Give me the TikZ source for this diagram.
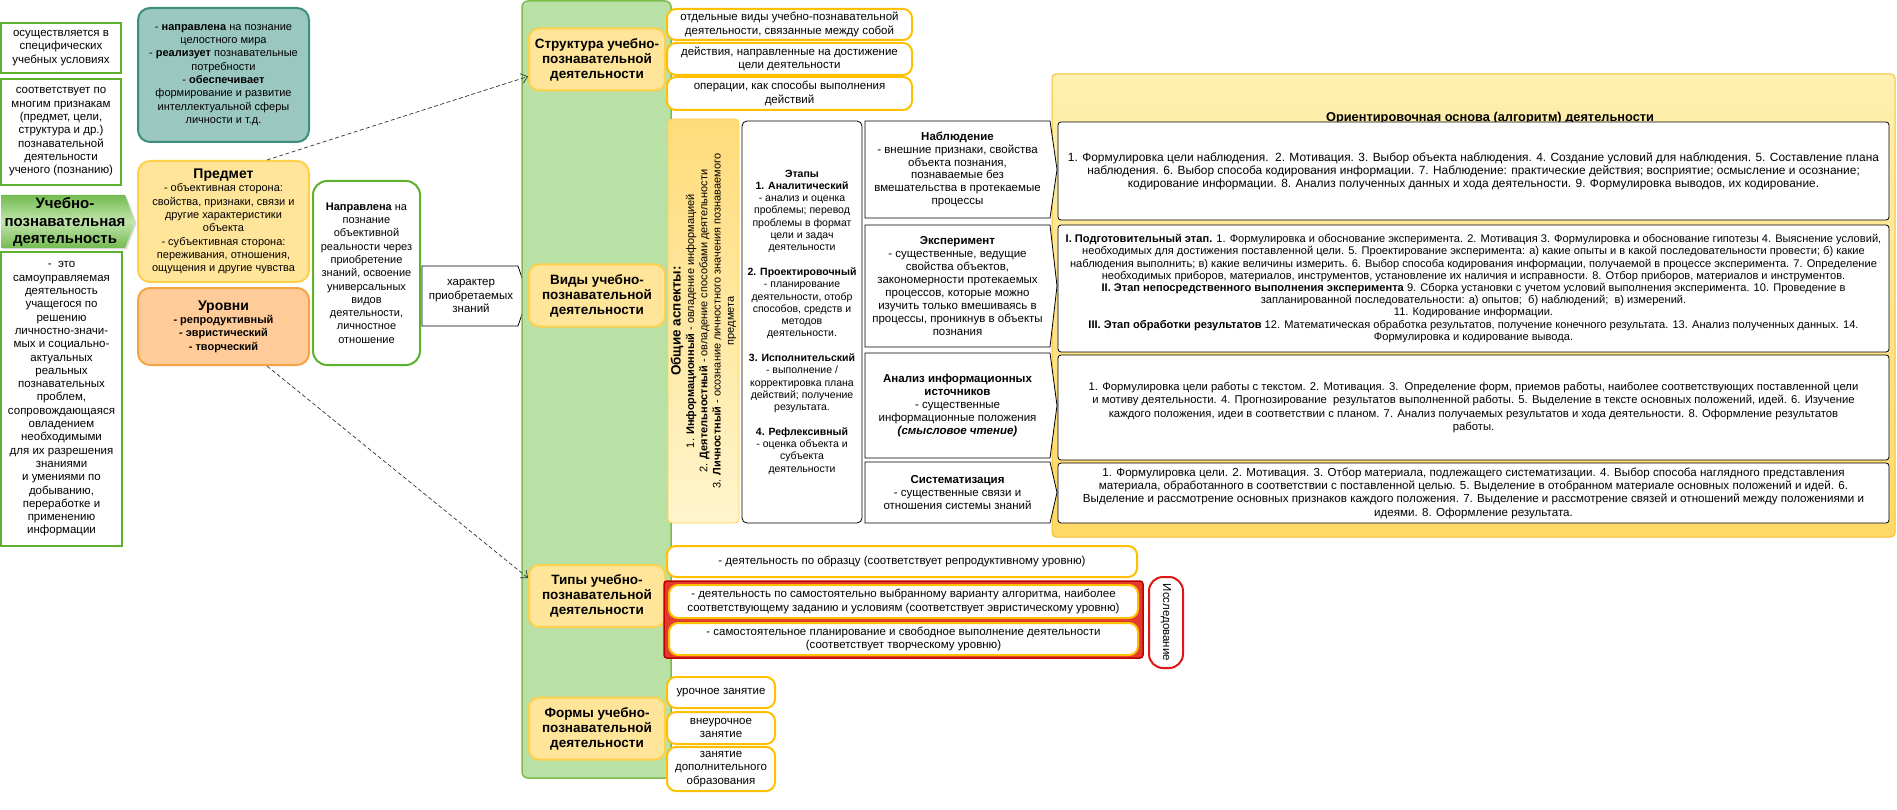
\documentclass[tikz,border=0pt]{standalone}
\usepackage{fontspec}
\setmainfont{Liberation Sans}
\usetikzlibrary{arrows.meta,shadows}
\definecolor{lgreen}{HTML}{5DB12E}
\definecolor{pgreen}{HTML}{B9E0A5}
\definecolor{pgreenb}{HTML}{7DBB4F}
\definecolor{arrgreen}{HTML}{74BB50}
\definecolor{arrgreenl}{HTML}{C2E5AE}
\definecolor{tealf}{HTML}{9AC7BF}
\definecolor{tealb}{HTML}{3D8F7C}
\definecolor{yelf}{HTML}{FFE599}
\definecolor{yelb}{HTML}{FFD04A}
\definecolor{oranf}{HTML}{FFCC99}
\definecolor{oranb}{HTML}{F5A444}
\definecolor{gold}{HTML}{FFC000}
\definecolor{panelt}{HTML}{FFF0B0}
\definecolor{panelbt}{HTML}{FFD966}
\definecolor{panelb}{HTML}{F2C037}
\definecolor{stripd}{HTML}{FFDC7A}
\definecolor{stripl}{HTML}{FFF4CC}
\definecolor{redf}{HTML}{E23B2E}
\definecolor{redb}{HTML}{C00000}
\definecolor{issb}{HTML}{E01515}

\begin{document}
\begin{tikzpicture}[x=1pt,y=-1pt,
  lbox/.style={draw=lgreen, line width=2.5pt, fill=white, align=center, inner sep=1pt,
    font=\fontsize{11.5}{13.3}\selectfont},
  cbox/.style={line width=2pt, rounded corners=12pt, align=center, inner sep=1pt,
    minimum width=171, font=\fontsize{11}{13.3}\selectfont},
  hdr/.style={fill=yelf, draw=yelb, line width=2pt, rounded corners=10pt, align=center,
    minimum width=136, minimum height=62, font=\bfseries\fontsize{13.5}{15}\selectfont},
  obox/.style={fill=white, draw=gold, line width=2pt, rounded corners=9pt, align=center,
    inner sep=1pt, font=\fontsize{11.5}{13.3}\selectfont},
  tline/.style={draw=black, line width=0.8pt, fill=white},
  rbox/.style={tline, rounded corners=3pt, align=center, inner sep=1pt, minimum width=831},
  ntext/.style={align=center, font=\fontsize{11.5}{12.9}\selectfont},
  dashcon/.style={black!80, line width=0.7pt, dash pattern=on 4pt off 2.5pt,
    -{Straight Barb[length=6pt,width=10pt]}}
]
\useasboundingbox (0,0) rectangle (1897,810);

% left column
\node[lbox, minimum width=120, minimum height=50] (usl) at (61,48)
  {осуществляется в\\специфических\\учебных условиях};
\node[lbox, minimum width=120, minimum height=106] (sootv) at (61,132)
  {соответствует по\\многим признакам\\(предмет, цели,\\структура и др.)\\познавательной\\деятельности\\ученого (познанию)};
\path[top color=arrgreen, bottom color=arrgreen, middle color=arrgreenl,
  drop shadow={shadow xshift=1.5pt, shadow yshift=-1.5pt, opacity=0.3}]
  (1,195) -- (125,195) -- (135,222) -- (125,248) -- (1,248) -- cycle;
\node[align=center, font=\bfseries\fontsize{15}{17.5}\selectfont] (upd) at (65,222)
  {Учебно-\\познавательная\\деятельность};
\node[lbox, minimum width=121, minimum height=294] (samoupr) at (61.5,399)
  {-\ \ это\\самоуправляемая\\деятельность\\учащегося по\\решению\\личностно-значи-\\мых и социально-\\актуальных\\реальных\\познавательных\\проблем,\\сопровождающаяся\\овладением\\необходимыми\\для их разрешения\\знаниями\\и умениями по\\добыванию,\\переработке и\\применению\\информации};

% second column
\node[cbox, fill=tealf, draw=tealb, minimum height=134] (celi) at (223.5,75)
  {- \textbf{направлена} на познание\\целостного мира\\- \textbf{реализует} познавательные\\потребности\\- \textbf{обеспечивает}\\формирование и развитие\\интеллектуальной сферы\\личности и т.д.};
\node[cbox, fill=yelf, draw=yelb, minimum height=121] (predmet) at (223.5,221.5)
  {{\bfseries\fontsize{14}{15.5}\selectfont Предмет}\\- объективная сторона:\\свойства, признаки, связи и\\другие характеристики\\объекта\\- субъективная сторона:\\переживания, отношения,\\ощущения и другие чувства};
\node[cbox, fill=oranf, draw=oranb, minimum height=77] (urovni) at (223.5,326.5)
  {{\bfseries\fontsize{14}{15.5}\selectfont Уровни}\\\textbf{- репродуктивный}\\\textbf{- эвристический}\\\textbf{- творческий}};
\node[cbox, fill=white, draw=lgreen, rounded corners=14pt, minimum width=107, minimum height=184]
  (napr) at (366.5,273)
  {\textbf{Направлена} на\\познание\\объективной\\реальности через\\приобретение\\знаний, освоение\\универсальных\\видов\\деятельности,\\личностное\\отношение};
\draw[tline] (422,266) -- (518,266) -- (528,296) -- (518,326) -- (422,326) -- cycle;
\node[align=center, font=\fontsize{11.5}{13.3}\selectfont] (harakter) at (471,296)
  {характер\\приобретаемых\\знаний};

% green panel
\node[fill=pgreen, draw=pgreenb, line width=1.5pt, rounded corners=6pt,
  minimum width=149, minimum height=777] (panel) at (596.5,389.5) {};
\node[hdr] (struct) at (597,59.5) {Структура учебно-\\познавательной\\деятельности};
\node[hdr] (vidy) at (597,295.5) {Виды учебно-\\познавательной\\деятельности};
\node[hdr] (tipy) at (597,596) {Типы учебно-\\познавательной\\деятельности};
\node[hdr] (formy) at (597,728.5) {Формы учебно-\\познавательной\\деятельности};

% structure
\node[obox, minimum width=245, minimum height=31] (otd) at (789.5,24.5)
  {отдельные виды учебно-познавательной\\деятельности, связанные между собой};
\node[obox, minimum width=245, minimum height=32] (deistv) at (789.5,59)
  {действия, направленные на достижение\\цели деятельности};
\node[obox, minimum width=245, minimum height=33] (oper) at (789.5,93.5)
  {операции, как способы выполнения\\действий};

% kinds
\node[rotate=90, top color=stripd, bottom color=stripl, draw=yelb, line width=0.8pt,
  rounded corners=4pt, minimum width=404, minimum height=71, align=center, inner sep=1pt,
  font=\fontsize{11}{13.3}\selectfont] (aspekty) at (703.5,321)
  {{\bfseries\fontsize{13.5}{15}\selectfont Общие аспекты:}\\
   1. \textbf{Информационный} - овладение информацией\\
   2. \textbf{Деятельностный} - овладение способами деятельности\\
   3. \textbf{Личностный} - осознание личностного значения познаваемого\\
   предмета};
\node[tline, rounded corners=5pt, minimum width=120, minimum height=402, align=center,
  inner sep=1pt, font=\fontsize{10.5}{12.3}\selectfont] (etapy) at (802,322)
  {\textbf{Этапы}\\\textbf{1. Аналитический}\\- анализ и оценка\\проблемы; перевод\\проблемы в формат\\цели и задач\\деятельности\\[12.3pt]
   \textbf{2. Проектировочный}\\- планирование\\деятельности, отобр\\способов, средств и\\методов\\деятельности.\\[12.3pt]
   \textbf{3. Исполнительский}\\- выполнение /\\корректировка плана\\действий; получение\\результата.\\[12.3pt]
   \textbf{4. Рефлексивный}\\- оценка объекта и\\субъекта\\деятельности};

\node[draw=panelb, line width=1pt, rounded corners=4pt, top color=panelt, bottom color=panelbt,
  minimum width=843, minimum height=463] (osnova) at (1473.5,305.5) {};
\node[anchor=base, font=\bfseries\fontsize{12.8}{14}\selectfont] (osnovaT) at (1490,121.5)
  {\underline{Ориентировочная основа (алгоритм) деятельности}};

\foreach \t/\b in {121/218, 225/347, 353/458, 462/523}
  \draw[tline] (865,\t) -- (1050,\t) -- (1057,{(\t+\b)/2}) -- (1050,\b) -- (865,\b) -- cycle;
\node[ntext] (nabl) at (957.5,169.5)
  {\textbf{Наблюдение}\\- внешние признаки, свойства\\объекта познания,\\познаваемые без\\вмешательства в протекаемые\\процессы};
\node[ntext] (eksp) at (957.5,286)
  {\textbf{Эксперимент}\\- существенные, ведущие\\свойства объектов,\\закономерности протекаемых\\процессов, которые можно\\изучить только вмешиваясь в\\процессы, проникнув в объекты\\познания};
\node[ntext] (analiz) at (957.5,405.5)
  {\textbf{Анализ информационных}\\\textbf{источников}\\- существенные\\информационные положения\\\textbf{\textit{(смысловое чтение)}}};
\node[ntext] (sistem) at (957.5,492.5)
  {\textbf{Систематизация}\\- существенные связи и\\отношения системы знаний};

\node[rbox, minimum height=98, font=\fontsize{11.9}{13}\selectfont] (algNabl) at (1473.5,171)
  {1. Формулировка цели наблюдения.\ \ 2. Мотивация. 3. Выбор объекта наблюдения. 4. Создание условий для наблюдения. 5. Составление плана\\
   наблюдения. 6. Выбор способа кодирования информации. 7. Наблюдение: практические действия; восприятие; осмысление и осознание;\\
   кодирование информации. 8. Анализ полученных данных и хода деятельности. 9. Формулировка выводов, их кодирование.};
\node[rbox, minimum height=127, font=\fontsize{11.1}{12.2}\selectfont] (algEksp) at (1473.5,288.5)
  {\textbf{I. Подготовительный этап.} 1. Формулировка и обоснование эксперимента. 2. Мотивация 3. Формулировка и обоснование гипотезы 4. Выяснение условий,\\
   необходимых для достижения поставленной цели. 5. Проектирование эксперимента: а) какие опыты и в какой последовательности провести; б) какие\\
   наблюдения выполнить; в) какие величины измерить. 6. Выбор способа кодирования информации, получаемой в процессе эксперимента. 7. Определение\\
   необходимых приборов, материалов, инструментов, установление их наличия и исправности. 8. Отбор приборов, материалов и инструментов.\\
   \textbf{II. Этап непосредственного выполнения эксперимента} 9. Сборка установки с учетом условий выполнения эксперимента. 10. Проведение в\\
   запланированной последовательности: а) опытов;\ \ б) наблюдений;\ \ в) измерений.\\
   11. Кодирование информации.\\
   \textbf{III. Этап обработки результатов} 12. Математическая обработка результатов, получение конечного результата. 13. Анализ полученных данных. 14.\\
   Формулировка и кодирование вывода.};
\node[rbox, minimum height=105, font=\fontsize{11.3}{13.3}\selectfont] (algAnaliz) at (1473.5,407.5)
  {1. Формулировка цели работы с текстом. 2. Мотивация. 3.\ \ Определение форм, приемов работы, наиболее соответствующих поставленной цели\\
   и мотиву деятельности. 4. Прогнозирование\ \ результатов выполненной работы. 5. Выделение в тексте основных положений, идей. 6. Изучение\\
   каждого положения, идеи в соответствии с планом. 7. Анализ получаемых результатов и хода деятельности. 8. Оформление результатов\\
   работы.};
\node[rbox, minimum height=60, font=\fontsize{11.6}{13.3}\selectfont] (algSistem) at (1473.5,493)
  {1. Формулировка цели. 2. Мотивация. 3. Отбор материала, подлежащего систематизации. 4. Выбор способа наглядного представления\\
   материала, обработанного в соответствии с поставленной целью. 5. Выделение в отобранном материале основных положений и идей. 6.\\
   Выделение и рассмотрение основных признаков каждого положения. 7. Выделение и рассмотрение связей и отношений между положениями и\\
   идеями. 8. Оформление результата.};

% types
\node[obox, minimum width=470, minimum height=31] (obrazec) at (902,561.5)
  {- деятельность по образцу (соответствует репродуктивному уровню)};
\node[fill=redf, draw=redb, line width=1.5pt, rounded corners=3pt,
  minimum width=479, minimum height=77] (issGroup) at (903.5,619.5) {};
\node[obox, minimum width=469, minimum height=33] (algoritm) at (903.5,601.5)
  {- деятельность по самостоятельно выбранному варианту алгоритма, наиболее\\соответствующему заданию и условиям (соответствует эвристическому уровню)};
\node[obox, minimum width=469, minimum height=32] (tvorch) at (903.5,639)
  {- самостоятельное планирование и свободное выполнение деятельности\\(соответствует творческому уровню)};
\node[rotate=-90, fill=white, draw=issb, line width=2pt, rounded corners=14pt,
  minimum width=91, minimum height=34, font=\fontsize{11.5}{13.3}\selectfont]
  (issled) at (1166,622.5) {Исследование};

% forms
\node[obox, minimum width=108, minimum height=31] (urochn) at (721,692.5) {урочное занятие};
\node[obox, minimum width=108, minimum height=32] (vneur) at (721,728) {внеурочное\\занятие};
\node[obox, minimum width=108, minimum height=44] (dopobr) at (721,769)
  {занятие\\дополнительного\\образования};

% connectors
\draw[dashcon] ([xshift=43.5pt]predmet.north) -- ([yshift=-17pt]struct.west);
\draw[dashcon] ([xshift=43.5pt]urovni.south) -- ([yshift=18pt]tipy.west);
\end{tikzpicture}
\end{document}
